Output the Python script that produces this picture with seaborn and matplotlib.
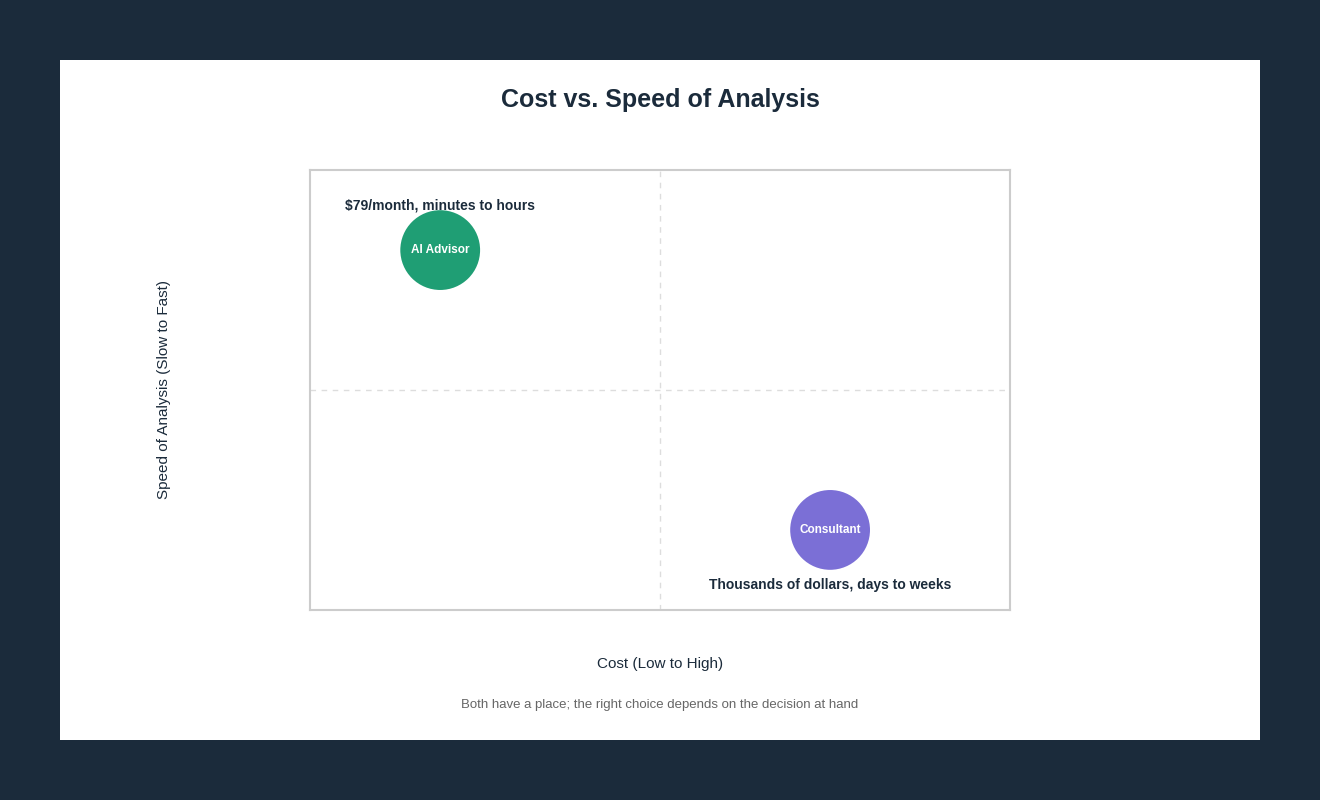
import matplotlib
matplotlib.use("Agg")
import matplotlib.pyplot as plt
import matplotlib.patches as mpatches
import seaborn as sns
import pandas as pd

# Data
names = ["AI Advisor", "Consultant"]
cost = [18.6, 74.3]
speed = [81.8, 18.2]
notes = ["$79/month, minutes to hours", "Thousands of dollars, days to weeks"]
note_y = [92.0, 5.7]
colors = ["#1f9e74", "#7b6fd6"]

df = pd.DataFrame({"name": names, "cost": cost, "speed": speed})

sns.set_style("white")
plt.rcParams["font.family"] = ["Liberation Sans", "DejaVu Sans"]

fig = plt.figure(figsize=(13.2, 8), dpi=100)
fig.patch.set_facecolor("#1b2b3b")
# white card
fig.add_artist(mpatches.Rectangle((60 / 1320, 60 / 800), 1200 / 1320, 680 / 800,
                                  transform=fig.transFigure, facecolor="white",
                                  edgecolor="none", zorder=0))

ax = fig.add_axes([310 / 1320, 190 / 800, 700 / 1320, 440 / 800])
ax.set_facecolor("white")
sns.scatterplot(data=df, x="cost", y="speed", hue="name", palette=colors,
                s=3300, edgecolor="none", legend=False, ax=ax, zorder=3)
ax.set_xlim(0, 100)
ax.set_ylim(0, 100)
ax.axvline(50, color="#dddddd", ls=(0, (4, 4)), lw=1)
ax.axhline(50, color="#dddddd", ls=(0, (4, 4)), lw=1)
for s in ax.spines.values():
    s.set_color("#cccccc")
    s.set_linewidth(1.5)
ax.set_xticks([])
ax.set_yticks([])

for n, x, y, note, ny in zip(names, cost, speed, notes, note_y):
    ax.text(x, y, n, color="white", fontsize=8.5, fontweight="bold",
            ha="center", va="center", zorder=4)
    ax.text(x, ny, note.replace("$", r"\$"), color="#1b2b3b", fontsize=10,
            fontweight="bold", ha="center", va="center", zorder=4)

ax.set_xlabel("Cost (Low to High)", fontsize=11, color="#1b2b3b", labelpad=34)
ax.set_ylabel("Speed of Analysis (Slow to Fast)", fontsize=11, color="#1b2b3b", labelpad=100)

fig.text(660 / 1320, 1 - 100 / 800, "Cost vs. Speed of Analysis", ha="center",
         va="center", fontsize=18, fontweight="bold", color="#1b2b3b")
fig.text(660 / 1320, 1 - 705 / 800,
         "Both have a place; the right choice depends on the decision at hand",
         ha="center", va="center", fontsize=9.5, color="#666666")

fig.savefig("out.png", dpi=100, facecolor=fig.get_facecolor())
